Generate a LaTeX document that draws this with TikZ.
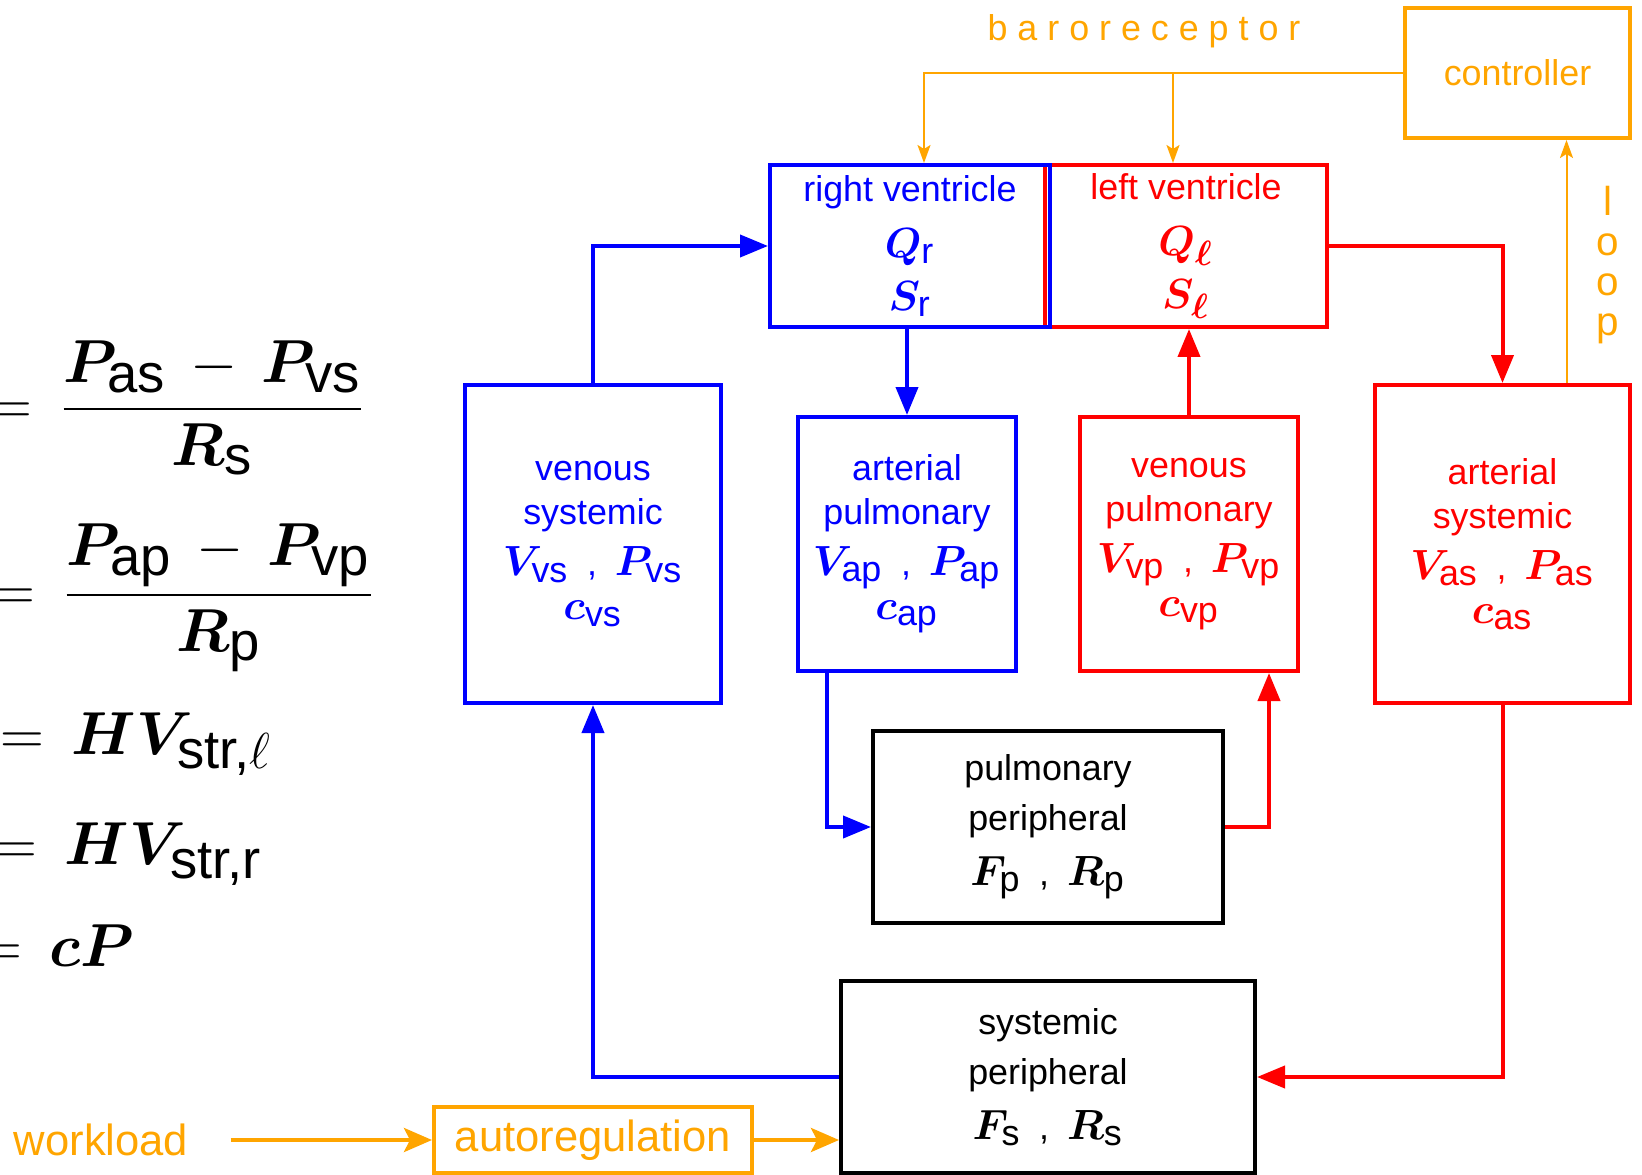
\documentclass[tikz,border=0pt]{standalone}
\usepackage{amsmath}
\usepackage{bm}
\usepackage[no-math]{fontspec}
\setmainfont{Liberation Sans}
\usetikzlibrary{arrows.meta}
\definecolor{ctrlorange}{RGB}{255,165,0}
\newcommand{\boxfont}{\fontsize{10.2}{12.5}\selectfont}
\newcommand{\bvar}[2]{{\fontsize{11.7}{14}\selectfont$\bm{#1}_{\mbox{\fontsize{10.2}{12}\selectfont #2}}$}}
\newcommand{\esub}[1]{\mbox{\fontsize{15.5}{18}\selectfont #1}}

\begin{document}
\begin{tikzpicture}[
    comp/.style={rectangle, draw, line width=0.04cm, inner sep=0pt, align=center, font=\boxfont},
    flow/.style={line width=0.04cm, -{Triangle[length=0.28cm, width=0.22cm]}},
    drive/.style={ctrlorange, line width=0.04cm, -{Stealth[length=0.28cm, width=0.24cm, inset=0.06cm]}},
    reflex/.style={ctrlorange, line width=0.02cm, -{Stealth[length=0.18cm, width=0.13cm, inset=0.04cm]}},
    eqn/.style={anchor=base west, inner sep=0pt, font=\fontsize{18.5}{22}\selectfont}
]
    \useasboundingbox (0,0) rectangle (16.42,-11.75);

    % Gleichungen
    \node[eqn] (eqs) at (-0.12,-4.24) {$\displaystyle=\,\frac{\bm{P}_{\esub{as}}\,-\,\bm{P}_{\esub{vs}}}{\bm{R}_{\esub{s}}}$};
    \node[eqn] (eqp) at (-0.09,-6.10) {$\displaystyle=\,\frac{\bm{P}_{\esub{ap}}\,-\,\bm{P}_{\esub{vp}}}{\bm{R}_{\esub{p}}}$};
    \node[eqn] (eql) at (0.00,-7.54) {$=\,\bm{H}\bm{V}_{\esub{str,$\ell$}}$};
    \node[eqn] (eqr) at (-0.07,-8.64) {$=\,\bm{H}\bm{V}_{\esub{str,r}}$};
    \node[eqn] (eqc) at (-0.22,-9.66) {$=\,\bm{c}\bm{P}$};

    % Herz
    \node[comp, red, minimum width=2.82cm, minimum height=1.62cm, font=\fontsize{10.2}{15}\selectfont] (lv) at (11.86,-2.46) {left ventricle\\[1pt]\bvar{Q}{$\bm{\ell}$}\\\bvar{S}{$\bm{\ell}$}};
    \node[comp, blue, minimum width=2.80cm, minimum height=1.62cm, font=\fontsize{10.2}{15}\selectfont] (rv) at (9.10,-2.46) {right ventricle\\[1pt]\bvar{Q}{r}\\\bvar{S}{r}};
    \node[comp, ctrlorange, minimum width=2.25cm, minimum height=1.30cm] (ctrl) at (15.175,-0.73) {controller};

    % Kompartimente
    \node[comp, blue, minimum width=2.56cm, minimum height=3.18cm] (vs) at (5.93,-5.44) {venous\\systemic\\[2pt]\bvar{V}{vs}\enspace,\enspace\bvar{P}{vs}\\\bvar{c}{vs}};
    \node[comp, blue, minimum width=2.18cm, minimum height=2.54cm] (ap) at (9.07,-5.44) {arterial\\pulmonary\\[2pt]\bvar{V}{ap}\enspace,\enspace\bvar{P}{ap}\\\bvar{c}{ap}};
    \node[comp, red, minimum width=2.18cm, minimum height=2.54cm] (vp) at (11.89,-5.44) {venous\\pulmonary\\[2pt]\bvar{V}{vp}\enspace,\enspace\bvar{P}{vp}\\\bvar{c}{vp}};
    \node[comp, red, minimum width=2.55cm, minimum height=3.18cm] (as) at (15.025,-5.44) {arterial\\systemic\\[2pt]\bvar{V}{as}\enspace,\enspace\bvar{P}{as}\\\bvar{c}{as}};

    % Peripherie
    \node[comp, minimum width=3.50cm, minimum height=1.92cm, font=\fontsize{10.2}{14.2}\selectfont] (pp) at (10.48,-8.27) {pulmonary\\peripheral\\[1.5pt]\bvar{F}{p}\enspace,\enspace\bvar{R}{p}};
    \node[comp, minimum width=4.14cm, minimum height=1.92cm, font=\fontsize{10.2}{14.2}\selectfont] (sp) at (10.48,-10.77) {systemic\\peripheral\\[1.5pt]\bvar{F}{s}\enspace,\enspace\bvar{R}{s}};
    \node[comp, ctrlorange, minimum width=3.18cm, minimum height=0.66cm, font=\fontsize{12.4}{14}\selectfont] (ar) at (5.93,-11.40) {autoregulation};
    \node[ctrlorange, font=\fontsize{12.4}{14}\selectfont] (wl) at (1.01,-11.40) {workload};

    % Beschriftungen
    \node[ctrlorange, font=\boxfont] (baro) at (11.44,-0.31) {b a r o r e c e p t o r};
    \node[ctrlorange, align=center, font=\fontsize{11.5}{11.4}\selectfont] (loop) at (16.08,-2.65) {l\\o\\o\\p};

    % Kreislauf
    \draw[flow, blue] (vs.north) |- (rv.west);
    \draw[flow, blue] (rv.south -| ap.north) -- (ap.north);
    \draw[flow, blue] ([xshift=0.31cm]ap.south west) |- (pp.west);
    \draw[flow, red] (pp.east) -| ([xshift=-0.31cm]vp.south east);
    \draw[flow, red] (vp.north) -- (vp.north |- lv.south);
    \draw[flow, red] (lv.east) -| (as.north);
    \draw[flow, red] (as.south) |- (sp.east);
    \draw[flow, blue] (sp.west) -| (vs.south);

    % Regelung
    \draw[reflex] (ctrl.west) -| ([xshift=0.14cm]rv.north);
    \draw[reflex] ([xshift=-0.13cm]lv.north |- ctrl.west) -- ([xshift=-0.13cm]lv.north);
    \draw[reflex] ([xshift=0.64cm]as.north) -- ([xshift=0.64cm]as.north |- ctrl.south);
    \draw[drive, shorten <=0.3cm] (wl.east) -- (ar.west);
    \draw[drive] (ar.east) -- (ar.east -| sp.west);
\end{tikzpicture}
\end{document}
